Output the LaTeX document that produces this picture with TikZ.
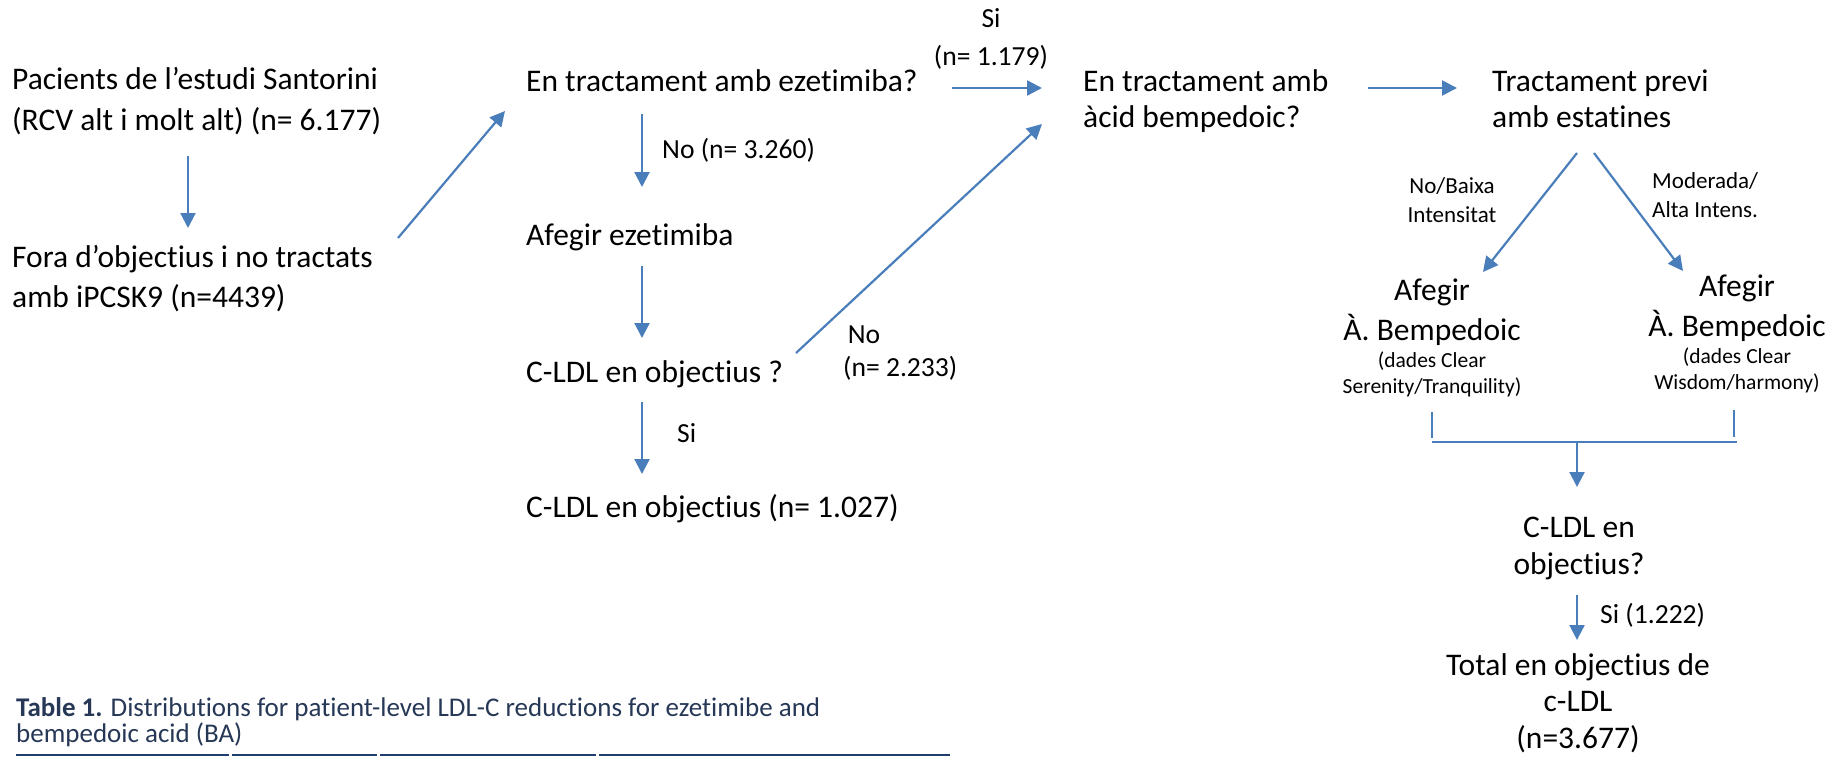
\documentclass[tikz,border=0pt]{standalone}
\usepackage{fontspec}
\setmainfont{Carlito}[Ligatures={NoCommon}]
\usetikzlibrary{arrows.meta}
\definecolor{flow}{RGB}{74,126,187}
\definecolor{capnavy}{RGB}{38,56,86}
\definecolor{rulenavy}{RGB}{31,63,111}

\begin{document}
\begin{tikzpicture}[x=1pt,y=-1pt,
  arr/.style={draw=flow, line width=2.2pt, -{Triangle[length=15pt,width=15pt]}},
  joinline/.style={draw=flow, line width=2pt},
  big/.style={inner sep=0pt, font=\fontsize{31.5}{40}\selectfont},
  bigtight/.style={inner sep=0pt, font=\fontsize{31.5}{36.5}\selectfont},
  lbl/.style={inner sep=0pt, font=\fontsize{27.6}{38}\selectfont},
  lblsmall/.style={inner sep=0pt, font=\fontsize{23}{28.5}\selectfont},
  note/.style={inner sep=0pt, font=\fontsize{21.5}{25.5}\selectfont},
  caption/.style={inner sep=0pt, text=capnavy, font=\fontsize{27}{24}\selectfont},
  tabrule/.style={draw=rulenavy, line width=2.6pt}
]
\useasboundingbox (0,0) rectangle (1843,757);

% ---- left column (multi-line nodes are placed by the baseline of their last line)
\node[big, anchor=base west, align=left] (pac) at (12,130)
  {Pacients de l’estudi Santorini\\(RCV alt i molt alt) (n= 6.177)};
\node[big, anchor=base west, align=left] (fora) at (12,307)
  {Fora d’objectius i no tractats\\amb iPCSK9 (n=4439)};

% ---- ezetimibe column
\node[big, anchor=base west] (eze) at (526,92) {En tractament amb ezetimiba?};
\node[big, anchor=base west] (afe) at (526,245) {Afegir ezetimiba};
\node[big, anchor=base west] (cq1) at (526,382) {C-LDL en objectius ?};
\node[big, anchor=base west] (ok1) at (526,517) {C-LDL en objectius (n= 1.027)};

% ---- bempedoic acid / statins
\node[bigtight, anchor=base west, align=left] (bemp) at (1083,128)
  {En tractament amb\\àcid bempedoic?};
\node[bigtight, anchor=base west, align=left] (prev) at (1492,128)
  {Tractament previ\\amb estatines};

\node[big, anchor=base, align=center] (afL) at (1432,340) {Afegir\\À. Bempedoic};
\node[note, anchor=base, align=center] (afLn) at (1432,393) {(dades Clear\\Serenity/Tranquility)};
\node[big, anchor=base, align=center] (afR) at (1737,336) {Afegir\\À. Bempedoic};
\node[note, anchor=base, align=center] (afRn) at (1737,389) {(dades Clear\\Wisdom/harmony)};

\node[bigtight, anchor=base, align=center] (cq2) at (1579,574) {C-LDL en\\objectius?};
\node[bigtight, anchor=base, align=center] (tot) at (1578,748)
  {Total en objectius de\\c-LDL\\(n=3.677)};

% ---- connector ends
\coordinate (pac-o) at (188,156);   \coordinate (fora-i) at (188,228);
\coordinate (fora-o) at (398,238);  \coordinate (eze-i) at (505,111);
\coordinate (eze-o) at (642,114);   \coordinate (afe-i) at (642,187);
\coordinate (afe-o) at (642,266);   \coordinate (cq1-i) at (642,338);
\coordinate (cq1-s) at (642,402);   \coordinate (ok1-i) at (642,474);
\coordinate (cq1-n) at (796,353);   \coordinate (bemp-i2) at (1042,124);
\coordinate (eze-r) at (952,88);    \coordinate (bemp-i) at (1042,88);
\coordinate (bemp-o) at (1368,88);  \coordinate (prev-i) at (1457,88);
\coordinate (prev-l) at (1577,153); \coordinate (afL-i) at (1483,272);
\coordinate (prev-r) at (1594,153); \coordinate (afR-i) at (1683,271);
\coordinate (afL-o) at (1432,412);  \coordinate (afL-b) at (1432,438);
\coordinate (afR-o) at (1734,410);  \coordinate (afR-b) at (1734,437);
\coordinate (jL) at (1432,442);     \coordinate (jR) at (1737,442);
\coordinate (jM) at (1577,442);     \coordinate (cq2-i) at (1577,487);
\coordinate (cq2-o) at (1577,595);  \coordinate (tot-i) at (1577,640);

% ---- connectors
\draw[arr] (pac-o) -- (fora-i);
\draw[arr] (fora-o) -- (eze-i);
\draw[arr] (eze-o) -- (afe-i);
\draw[arr] (afe-o) -- (cq1-i);
\draw[arr] (cq1-s) -- (ok1-i);
\draw[arr] (cq1-n) -- (bemp-i2);
\draw[arr] (eze-r) -- (bemp-i);
\draw[arr] (bemp-o) -- (prev-i);
\draw[arr] (prev-l) -- (afL-i);
\draw[arr] (prev-r) -- (afR-i);
\draw[joinline] (afL-o) -- (afL-b);
\draw[joinline] (afR-o) -- (afR-b);
\draw[joinline] (jL) -- (jR);
\draw[arr] (jM) -- (cq2-i);
\draw[arr] (cq2-o) -- (tot-i);

% ---- connector labels
\node[lbl, anchor=base, align=center] (l-si1) at (991,66) {Si\\(n= 1.179)};
\node[lbl, anchor=base west] (l-no1) at (662,158) {No (n= 3.260)};
\node[lbl, anchor=base west, align=left, font=\fontsize{27.6}{33}\selectfont] (l-no2) at (843,376) {\,No\\(n= 2.233)};
\node[lbl, anchor=base west] (l-si2) at (677,442) {Si};
\node[lblsmall, anchor=base, align=center] (l-low) at (1452,222) {No/Baixa\\Intensitat};
\node[lblsmall, anchor=base west, align=left] (l-high) at (1652,217) {Moderada/\\Alta Intens.};
\node[lbl, anchor=base west] (l-si3) at (1600,623) {Si (1.222)};

% ---- table heading
\node[caption, anchor=base west, align=left] (cap) at (16,742)
  {\textbf{Table 1.} Distributions for patient-level LDL-C reductions for ezetimibe and\\bempedoic acid (BA)};
\draw[tabrule] (16,755) -- (229,755);
\draw[tabrule] (232,755) -- (377,755);
\draw[tabrule] (380,755) -- (596,755);
\draw[tabrule] (599,755) -- (950,755);
\end{tikzpicture}
\end{document}
